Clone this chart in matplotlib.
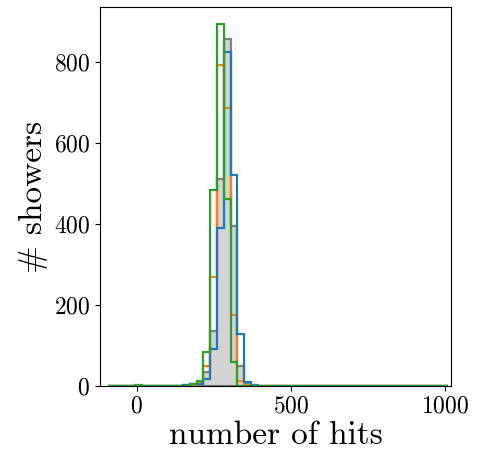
import numpy as np
import matplotlib
matplotlib.use("Agg")
import matplotlib.pyplot as plt

plt.rcParams["font.family"] = "serif"
plt.rcParams["font.serif"] = ["cmr10"]
plt.rcParams["mathtext.fontset"] = "cm"
plt.rcParams["axes.formatter.use_mathtext"] = True

# Binning: 50 bins of 22 hits each
bin_start = -92
bin_width = 22
n_bins = 50
edges = bin_start + bin_width * np.arange(n_bins + 1)
centers = 0.5 * (edges[:-1] + edges[1:])

# Counts per bin, starting at bin index `first_bin` (all other bins empty)
first_bin = 11
reference_counts = [2, 4, 7, 35, 135, 510, 858, 395, 49, 4, 0]
model_a_counts = [1, 3, 8, 50, 270, 792, 686, 175, 13, 2, 0]
model_b_counts = [3, 5, 6, 18, 92, 389, 825, 522, 129, 10, 3]
model_c_counts = [1, 4, 12, 84, 484, 895, 461, 58, 1, 0, 0]
# a few empty showers in the bin around zero for model C
model_c_zero_bin = 4
model_c_zero_count = 3


def full_counts(counts):
    out = np.zeros(n_bins)
    out[first_bin:first_bin + len(counts)] = counts
    return out


ref = full_counts(reference_counts)
ma = full_counts(model_a_counts)
mb = full_counts(model_b_counts)
mc = full_counts(model_c_counts)
mc[model_c_zero_bin] = model_c_zero_count

fig = plt.figure(figsize=(4.87, 4.53), dpi=100)
ax = fig.add_axes([0.2053, 0.148, 0.7207, 0.8365])

ax.hist(centers, bins=edges, weights=ref, histtype="stepfilled",
        facecolor="lightgray", edgecolor="gray", linewidth=1.6)
ax.hist(centers, bins=edges, weights=ma, histtype="step",
        color="#ff7f0e", linewidth=1.6)
ax.hist(centers, bins=edges, weights=mb, histtype="step",
        color="#1f77b4", linewidth=1.6)
ax.hist(centers, bins=edges, weights=mc, histtype="step",
        color="#2ca02c", linewidth=1.6)

ax.set_xlim(-119, 1018)
ax.set_ylim(0, 936)
ax.set_xticks([0, 500, 1000])
ax.set_yticks([0, 200, 400, 600, 800])
ax.tick_params(labelsize=17)
ax.set_xlabel("number of hits", fontsize=24, labelpad=2)
ax.set_ylabel("# showers", fontsize=24, labelpad=4)

fig.savefig("out.png", dpi=100)
